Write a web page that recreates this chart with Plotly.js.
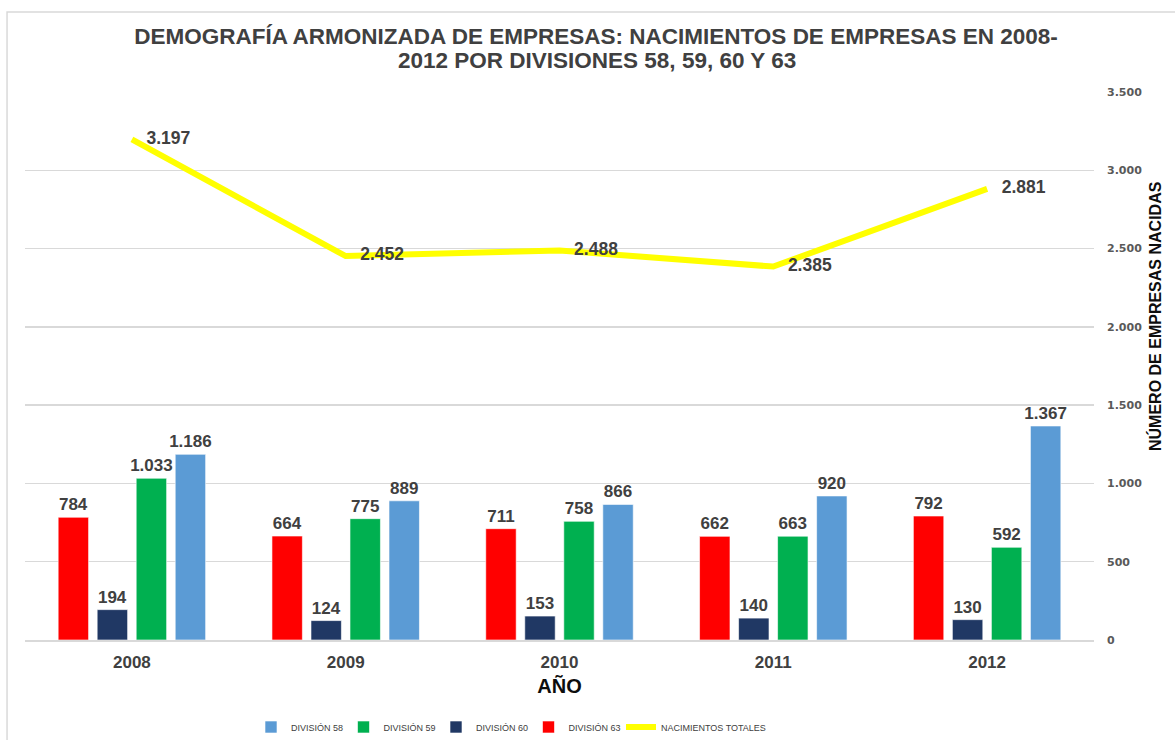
<!DOCTYPE html>
<html>
<head>
<meta charset="utf-8">
<script src="https://cdn.plot.ly/plotly-3.0.1.min.js"></script>
<style>html,body{margin:0;padding:0;background:#fff;}#chart{width:1175px;height:740px;}</style>
</head>
<body>
<div id="chart"></div>
<script>
const years = ['2008', '2009', '2010', '2011', '2012'];
const div58 = [1186, 889, 866, 920, 1367];
const div59 = [1033, 775, 758, 663, 592];
const div60 = [194, 124, 153, 140, 130];
const div63 = [784, 664, 711, 662, 792];
const totals = [3197, 2452, 2488, 2385, 2881];
const yTicks = [0, 500, 1000, 1500, 2000, 2500, 3000, 3500];
const titleLine1 = 'DEMOGRAFÍA ARMONIZADA DE EMPRESAS: NACIMIENTOS DE EMPRESAS EN 2008-';
const titleLine2 = '2012 POR DIVISIONES 58, 59, 60 Y 63';

const FONT = 'Liberation Sans, Arial, sans-serif';
const barLabelFont = {family: FONT, size: 17, color: '#404040', weight: 700};
const lineLabelFont = {family: FONT, size: 17.5, color: '#404040', weight: 700};
const titleFont = {family: FONT, size: 22.5, color: '#404040', weight: 700};

function barTrace(name, vals, color, rank) {
  return {
    type: 'bar', name: name, x: years, y: vals,
    marker: {color: color, line: {color: 'rgba(255,255,255,0.6)', width: 1}},
    text: vals, texttemplate: '%{y:,}', textposition: 'outside',
    constraintext: 'none',
    textfont: barLabelFont, cliponaxis: false, legendrank: rank, hoverinfo: 'x+y+name'
  };
}

const data = [
  barTrace('DIVISIÓN 63', div63, '#ff0000', 4),
  barTrace('DIVISIÓN 60', div60, '#203864', 3),
  barTrace('DIVISIÓN 59', div59, '#00b050', 2),
  barTrace('DIVISIÓN 58', div58, '#5b9bd5', 1),
  {
    type: 'scatter', mode: 'lines+text', name: 'NACIMIENTOS TOTALES',
    x: years, y: totals, line: {color: '#ffff00', width: 6},
    text: totals, texttemplate: '\u00a0\u00a0\u00a0%{y:,}', textposition: 'middle right',
    textfont: lineLabelFont, cliponaxis: false, legendrank: 5, legendwidth: 110
  }
];

const layout = {
  width: 1175, height: 740,
  margin: {l: 25, r: 81, t: 92, b: 100},
  paper_bgcolor: '#ffffff', plot_bgcolor: '#ffffff',
  separators: ',.',
  barmode: 'group', bargap: 0.27, bargroupgap: 0.22,
  title: {
    text: titleLine1,
    font: titleFont,
    x: 596 / 1175, xanchor: 'center', xref: 'container',
    y: 1 - 36 / 740, yanchor: 'middle', yref: 'container'
  },
  xaxis: {
    type: 'category', showgrid: false, zeroline: false,
    showline: true, linecolor: '#d9d9d9', linewidth: 1.5,
    ticks: '', ticklabelstandoff: 6,
    tickfont: {family: FONT, size: 17, color: '#404040', weight: 700},
    title: {text: 'AÑO', font: {family: FONT, size: 20, color: '#0d0d0d', weight: 700}, standoff: 8}
  },
  yaxis: {
    side: 'right', range: [0, 3500], tickvals: yTicks, tickformat: ',',
    showgrid: true, gridcolor: '#d9d9d9', gridwidth: 1.5, zeroline: false,
    ticks: '', ticklabelstandoff: 12,
    tickfont: {family: 'DejaVu Sans, Verdana, sans-serif', size: 11, color: '#595959', weight: 700}
  },
  showlegend: true,
  legend: {
    orientation: 'h', traceorder: 'normal',
    x: 251 / 1175, xref: 'container', xanchor: 'left',
    y: 13 / 740, yref: 'container', yanchor: 'middle',
    font: {family: FONT, size: 9, color: '#404040'},
    itemwidth: 30, entrywidth: 47.5, entrywidthmode: 'pixels'
  },
  annotations: [
    {
      text: titleLine2, xref: 'paper', yref: 'paper',
      x: (597 - 25) / 1069, y: (640 - 60) / 548,
      showarrow: false, xanchor: 'center', yanchor: 'middle', font: titleFont
    },
    {
      text: 'NÚMERO DE EMPRESAS NACIDAS', textangle: -90,
      xref: 'paper', yref: 'paper', x: 1.0, y: (640 - 316) / 548,
      xshift: 61, showarrow: false, xanchor: 'center', yanchor: 'middle',
      font: {family: FONT, size: 16, color: '#0d0d0d', weight: 700}
    }
  ],
  shapes: [{
    type: 'rect', xref: 'paper', yref: 'paper',
    x0: -0.0168, x1: 1.2, y0: -0.3, y1: 1.146,
    line: {color: '#d9d9d9', width: 1.5}, fillcolor: 'rgba(0,0,0,0)', layer: 'above'
  }]
};

Plotly.newPlot('chart', data, layout, {displayModeBar: false, staticPlot: true});
</script>
</body>
</html>
